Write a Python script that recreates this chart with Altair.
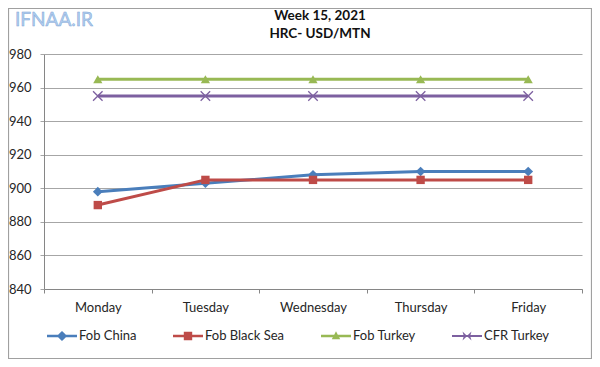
import altair as alt
import pandas as pd

days = ["Monday", "Tuesday", "Wednesday", "Thursday", "Friday"]
series = ["Fob China", "Fob Black Sea", "Fob Turkey", "CFR Turkey"]
fob_china = [898, 903, 908, 910, 910]
fob_black_sea = [890, 905, 905, 905, 905]
fob_turkey = [965, 965, 965, 965, 965]
cfr_turkey = [955, 955, 955, 955, 955]
y_ticks = [840, 860, 880, 900, 920, 940, 960, 980]
title_lines = ["Week 15, 2021", "HRC- USD/MTN"]
watermark = "IFNAA.IR"

colors = ["#4A7EBB", "#BE4B48", "#98B954", "#7D60A0"]
FONT = "Lato"

rows = []
for name, vals in zip(series, [fob_china, fob_black_sea, fob_turkey, cfr_turkey]):
    for d, v in zip(days, vals):
        rows.append({"day": d, "series": name, "value": v})
df = pd.DataFrame(rows)

W, H = 538, 235

x_enc = alt.X("day:N", sort=days,
              scale=alt.Scale(type="band", domain=days, paddingInner=0, paddingOuter=0),
              axis=alt.Axis(title=None, labelAngle=0, grid=False, domainColor="#868686",
                            tickColor="#868686", tickSize=4, tickBand="extent",
                            labelPadding=8, labelFontSize=13, labelFont=FONT,
                            labelColor="#262626"))
y_enc = alt.Y("value:Q", scale=alt.Scale(domain=[840, 980], nice=False, zero=False),
              axis=alt.Axis(title=None, values=y_ticks, grid=True, gridColor="#a6a6a6",
                            domainColor="#868686", tickColor="#a6a6a6", tickSize=4,
                            labelPadding=9, labelFontSize=13, labelFont=FONT,
                            labelColor="#262626"))

base = alt.Chart(df)

# legend-only layer: drawn first with zero-size marks, legend built from explicit domains
leg_paths = [
    "M-1,-0.09H-0.26L0,-0.34L0.26,-0.09H1V0.09H0.26L0,0.34L-0.26,0.09H-1Z",
    "M-1,-0.09H-0.28V-0.28H0.28V-0.09H1V0.09H0.28V0.28H-0.28V0.09H-1Z",
    "M-1,-0.09H-0.12L0,-0.32L0.12,-0.09H1V0.09H0.21L0.28,0.22H-0.28L-0.21,0.09H-1Z",
    "M-1,-0.07H-0.23L-0.3,-0.3L-0.06,-0.07H0.06L0.3,-0.3L0.23,-0.07H1V0.07H0.23L0.3,0.3L0.06,0.07H-0.06L-0.3,0.3L-0.23,0.07H-1Z",
]
leg = alt.Legend(title=None, orient="none", legendX=3, legendY=267, direction="horizontal",
                 columns=4, symbolSize=900, symbolStrokeWidth=0, labelOffset=2,
                 columnPadding=36, labelFontSize=13, labelFont=FONT, labelColor="#262626",
                 padding=0, symbolOpacity=1)
legend_layer = base.mark_point(filled=True, size=0).encode(
    x=x_enc, y=y_enc,
    color=alt.Color("series:N", scale=alt.Scale(domain=series, range=colors), legend=leg),
    shape=alt.Shape("series:N", scale=alt.Scale(domain=series, range=leg_paths), legend=leg),
)

lines = base.mark_line(strokeWidth=3, strokeJoin="round").encode(
    x=x_enc, y=y_enc,
    stroke=alt.Stroke("series:N", scale=alt.Scale(domain=series, range=colors), legend=None),
    detail="series:N",
)

x_path = "M-1,-1L1,1M1,-1L-1,1"
marker_specs = [
    dict(shape="diamond", size=95, filled=True),
    dict(shape="square", size=70, filled=True),
    dict(shape="triangle-up", size=85, filled=True),
    dict(shape=x_path, size=90, filled=False, strokeWidth=1.3),
]
point_layers = []
for name, col, spec in zip(series, colors, marker_specs):
    spec = dict(spec)
    point_layers.append(
        base.transform_filter(alt.datum.series == name)
        .mark_point(color=col, opacity=1, **spec)
        .encode(x=x_enc, y=y_enc)
    )

one = alt.Chart(pd.DataFrame({"k": [0]}))
t1 = one.mark_text(text=title_lines[0], font=FONT, fontSize=13.5, fontWeight="bold",
                   color="#111111", align="center", baseline="middle").encode(
    x=alt.value(276), y=alt.value(-38))
t2 = one.mark_text(text=title_lines[1], font=FONT, fontSize=13.5, fontWeight="bold",
                   color="#111111", align="center", baseline="middle").encode(
    x=alt.value(276), y=alt.value(-20))
wm = one.mark_text(text=watermark, font=FONT, fontSize=19, color="#b3cff0",
                   stroke="#7fa6d6", strokeWidth=0.5, align="left", baseline="middle").encode(
    x=alt.value(-29), y=alt.value(-34))
border = one.mark_rect(filled=False, stroke="#a0a0a0", strokeWidth=1.2).encode(
    x=alt.value(-35.5), x2=alt.value(W + 9.5), y=alt.value(-45.5), y2=alt.value(H + 69.5))

chart = alt.layer(border, legend_layer, lines, *point_layers, t1, t2, wm).properties(
    width=W, height=H,
    autosize=alt.AutoSizeParams(type="none"),
    padding={"left": 36, "top": 46, "right": 10, "bottom": 70},
    background="white",
).configure_view(stroke=None)

chart.save("out.html", embed_options={"renderer": "svg", "actions": False})
